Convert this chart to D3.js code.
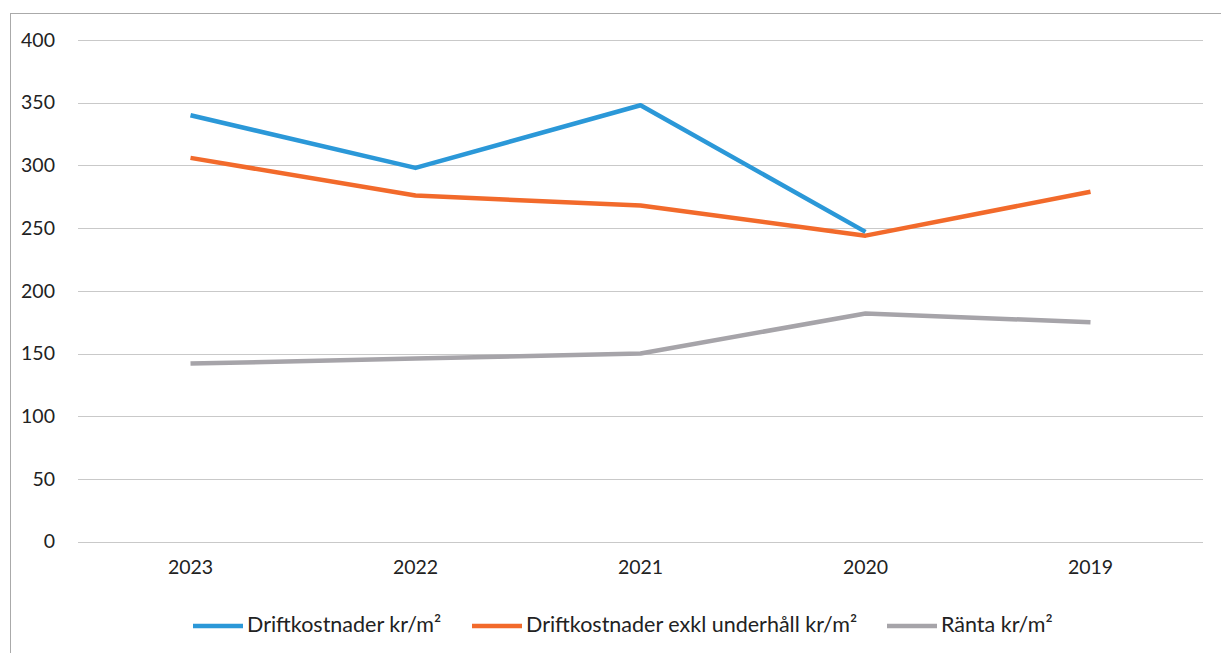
<!DOCTYPE html>
<html>
<head>
<meta charset="utf-8">
<script src="https://cdn.jsdelivr.net/npm/d3@7"></script>
<style>
  body { margin: 0; background: #fff; }
  text { font-family: Lato, "Open Sans", sans-serif; fill: #222; }
</style>
</head>
<body>
<svg width="1221" height="653"></svg>
<script>
// data
var years = ["2023", "2022", "2021", "2020", "2019"];
var drift = [340, 298, 348, 247, null];
var driftExkl = [306, 276, 268, 244, 279];
var ranta = [142, 146, 150, 182, 175];
var yTicks = [0, 50, 100, 150, 200, 250, 300, 350, 400];
var seriesNames = ["Driftkostnader kr/m²", "Driftkostnader exkl underhåll kr/m²", "Ränta kr/m²"];
var colors = ["#2b98d8", "#f26a2b", "#a6a4a9"];

var svg = d3.select("svg");

// outer frame
svg.append("rect")
    .attr("x", 10.5).attr("y", 13.5)
    .attr("width", 1230).attr("height", 680)
    .attr("fill", "none")
    .attr("stroke", "#aaa")
    .attr("stroke-width", 1);

var x = d3.scaleBand().domain(years).range([78, 1203]);
var y = d3.scaleLinear().domain([0, 400]).range([541.7, 40]);

// gridlines
svg.append("g")
    .selectAll("line")
    .data(yTicks)
    .enter().append("line")
    .attr("x1", 78).attr("x2", 1203)
    .attr("y1", function(d){ return Math.round(y(d)) + 0.5; })
    .attr("y2", function(d){ return Math.round(y(d)) + 0.5; })
    .attr("stroke", "#c9c9c9")
    .attr("stroke-width", 1);

// y axis labels
var yAxis = d3.axisLeft(y).tickValues(yTicks).tickSize(0).tickPadding(0);
var gy = svg.append("g").attr("transform", "translate(55,0)").call(yAxis);
gy.select(".domain").remove();
gy.selectAll("text").style("font-size", "19.5px").attr("fill", "#222");

// x axis labels
var xAxis = d3.axisBottom(x).tickSize(0).tickPadding(0);
var gx = svg.append("g").attr("transform", "translate(0,560)").call(xAxis);
gx.select(".domain").remove();
gx.selectAll("text").style("font-size", "19.5px").attr("fill", "#222");

var line = d3.line()
    .defined(function(d){ return d != null; })
    .x(function(d, i){ return x(years[i]) + x.bandwidth() / 2; })
    .y(function(d){ return y(d); });

[ranta, driftExkl, drift].forEach(function(s, k){
    svg.append("path")
        .datum(s)
        .attr("d", line)
        .attr("fill", "none")
        .attr("stroke", colors[2 - k])
        .attr("stroke-width", 4.5)
        .attr("stroke-linejoin", "round");
});

// legend
var legendX = [193, 472, 887];
var lg = svg.append("g");
seriesNames.forEach(function(name, i){
    lg.append("line")
        .attr("x1", legendX[i]).attr("x2", legendX[i] + 50)
        .attr("y1", 626).attr("y2", 626)
        .attr("stroke", colors[i])
        .attr("stroke-width", 4.5);
    lg.append("text")
        .attr("x", legendX[i] + 54)
        .attr("y", 632)
        .style("font-size", "21.5px")
        .text(name);
});
</script>
</body>
</html>
